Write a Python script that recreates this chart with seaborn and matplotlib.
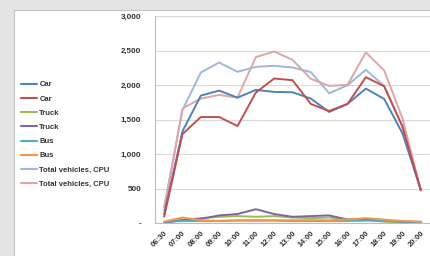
import matplotlib
matplotlib.use("Agg")
import matplotlib.pyplot as plt
import matplotlib.patches as mpatches
from matplotlib.ticker import FuncFormatter
import seaborn as sns
import numpy as np

times = ["06:30", "07:00", "08:00", "09:00", "10:00", "11:00", "12:00", "13:00",
         "14:00", "15:00", "16:00", "17:00", "18:00", "19:00", "20:00"]

car_a = [130, 1330, 1846, 1919, 1817, 1929, 1900, 1895, 1803, 1609, 1725, 1948, 1798, 1300, 475]
car_b = [90, 1289, 1536, 1536, 1405, 1890, 2094, 2070, 1725, 1623, 1725, 2113, 1982, 1396, 475]
truck_a = [10, 50, 70, 90, 100, 90, 100, 80, 70, 80, 50, 50, 20, 10, 5]
truck_b = [5, 40, 60, 110, 130, 200, 130, 90, 100, 110, 50, 60, 40, 20, 10]
bus_a = [15, 30, 30, 30, 35, 35, 35, 30, 30, 30, 30, 35, 30, 20, 15]
bus_b = [20, 80, 40, 30, 40, 40, 40, 40, 40, 40, 50, 70, 50, 30, 20]
total_a = [232, 1638, 2181, 2326, 2191, 2263, 2278, 2254, 2186, 1880, 1997, 2220, 1987, 1396, 475]
total_b = [180, 1660, 1803, 1856, 1817, 2404, 2486, 2365, 2089, 1987, 2002, 2472, 2210, 1517, 475]

labels = ["Car", "Car", "Truck", "Truck", "Bus", "Bus",
          "Total vehicles, CPU", "Total vehicles, CPU"]
colors = ["#4F81BD", "#C0504D", "#9BBB59", "#8064A2", "#4BACC6", "#F79646",
          "#9DB8DE", "#E2A4A4"]
series = [car_a, car_b, truck_a, truck_b, bus_a, bus_b, total_a, total_b]

sns.set_style("white")
plt.rcParams["font.family"] = ["Liberation Sans", "DejaVu Sans"]
plt.rcParams["font.weight"] = "bold"

fig = plt.figure(figsize=(4.3, 2.56), dpi=100)
fig.patch.set_facecolor("#e4e4e4")
fig.patches.append(mpatches.Rectangle((14 / 430, -0.01), 1, 1.01 - 10 / 256,
                                      transform=fig.transFigure,
                                      facecolor="white", edgecolor="#c4c4c4",
                                      linewidth=0.8, zorder=-5))

ax = fig.add_axes([155 / 430, 1 - 223 / 256, 1 - 155 / 430, (223 - 16) / 256])
ax.set_facecolor("none")

xpos = np.arange(len(times))
# light totals drawn first, under the others
order = [6, 7, 0, 1, 2, 3, 4, 5]
for i in order:
    sns.lineplot(x=xpos, y=series[i], ax=ax, color=colors[i], linewidth=1.4,
                 label=labels[i], legend=False, zorder=3)

ax.set_xlim(-0.5, len(times) - 0.5)
ax.set_ylim(0, 3000)
ax.set_yticks(range(0, 3001, 500))
ax.yaxis.set_major_formatter(FuncFormatter(lambda v, p: "-" if v == 0 else f"{int(v):,}"))
ax.set_xticks(xpos)
ax.set_xticklabels(times, rotation=45, ha="right", rotation_mode="anchor")
ax.tick_params(axis="x", labelsize=5.5, length=2, color="#aaaaaa", pad=3,
               labelcolor="#333333")
ax.tick_params(axis="y", labelsize=5.8, length=3, color="#aaaaaa", pad=7,
               labelcolor="#333333")
ax.grid(axis="y", color="#d9d9d9", linewidth=0.8)
ax.set_axisbelow(True)
for side in ["top", "right"]:
    ax.spines[side].set_visible(False)
for side in ["left", "bottom"]:
    ax.spines[side].set_color("#bdbdbd")
    ax.spines[side].set_linewidth(0.8)
ax.set_xlabel("")
ax.set_ylabel("")

handles = [plt.Line2D([], [], color=c, linewidth=1.5) for c in colors]
leg = fig.legend(handles, labels, loc="upper left", bbox_to_anchor=(21 / 430, 1 - 81 / 256),
                 frameon=False, fontsize=5.5, handlelength=2.1, handletextpad=0.3,
                 labelspacing=0.9, borderpad=0, borderaxespad=0)
for t in leg.get_texts():
    t.set_color("#333333")

fig.savefig("out.png", dpi=100, facecolor=fig.get_facecolor())
